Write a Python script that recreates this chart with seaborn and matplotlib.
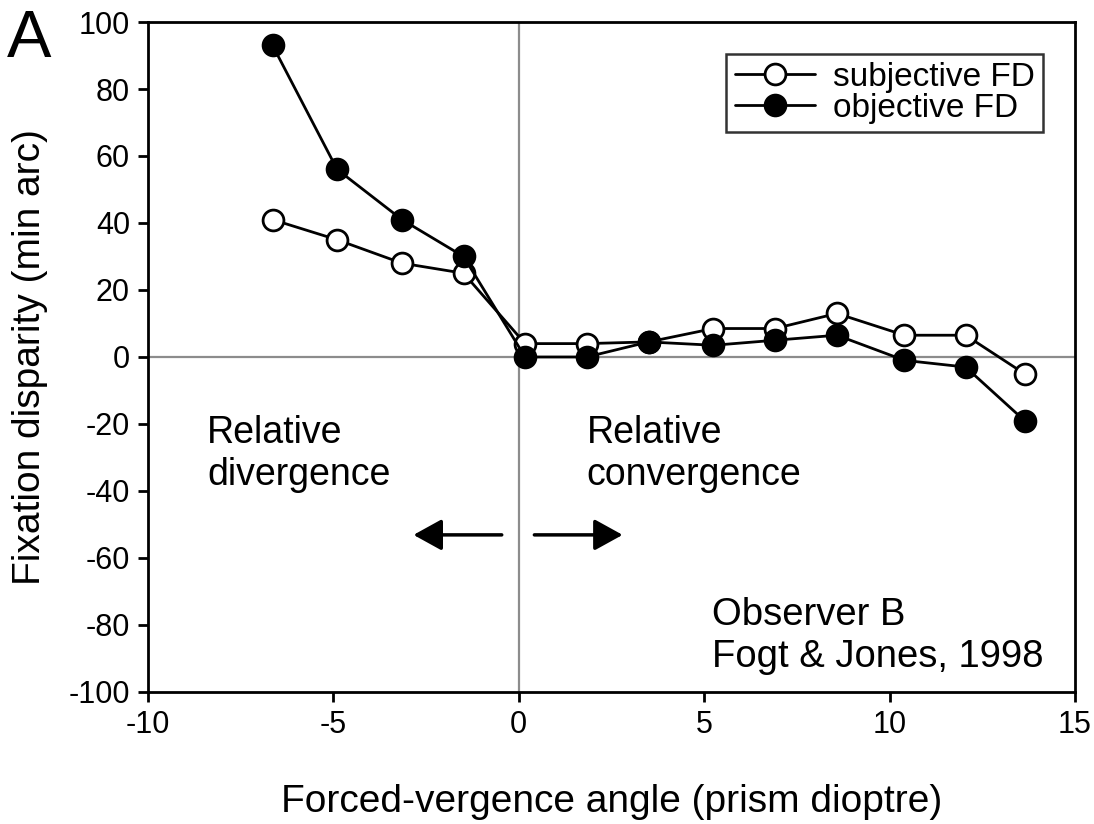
import matplotlib
matplotlib.use("Agg")
import matplotlib.pyplot as plt
import seaborn as sns
import pandas as pd

# Forced-vergence angle (prism dioptre)
angulo = [-6.64, -4.9, -3.15, -1.49, 0.17, 1.83, 3.5, 5.25, 6.91, 8.58, 10.4, 12.05, 13.64]
# Fixation disparity (min arc)
fd_subjetiva = [41, 35, 28, 25, 4, 4, 4.5, 8.5, 8.5, 13, 6.5, 6.5, -5]
fd_objetiva = [93, 56, 41, 30, 0, 0, 4.5, 3.5, 5, 6.5, -1, -3, -19]

etiquetas = ['subjective FD', 'objective FD']
xticks = [-10, -5, 0, 5, 10, 15]
yticks = list(range(-100, 101, 20))

df_subj = pd.DataFrame({'x': angulo, 'y': fd_subjetiva})
df_obj = pd.DataFrame({'x': angulo, 'y': fd_objetiva})

sns.set_theme(style='white')
plt.rcParams['font.family'] = ['Liberation Sans', 'DejaVu Sans']
plt.rcParams['text.color'] = 'black'
plt.rcParams['axes.labelcolor'] = 'black'
plt.rcParams['xtick.color'] = 'black'
plt.rcParams['ytick.color'] = 'black'

fig = plt.figure(figsize=(10.94, 8.24), dpi=100)
ax = fig.add_axes([0.1353, 0.1602, 0.8473, 0.8131])

# lineas de referencia
ax.axhline(0, color='#8c8c8c', lw=1.6, zorder=1)
ax.axvline(0, color='#8c8c8c', lw=1.6, zorder=1)

estilo = dict(marker='o', markersize=15, markeredgewidth=2, markeredgecolor='black',
              color='black', linewidth=2, estimator=None, sort=False)
sns.lineplot(data=df_subj, x='x', y='y', ax=ax, markerfacecolor='white',
             label=etiquetas[0], zorder=3, **estilo)
sns.lineplot(data=df_obj, x='x', y='y', ax=ax, markerfacecolor='black',
             label=etiquetas[1], zorder=4, **estilo)

ax.set_xlim(-10, 15)
ax.set_ylim(-100, 100)
ax.set_xticks(xticks)
ax.set_yticks(yticks)
ax.set_xticklabels([str(t) for t in xticks])
ax.set_yticklabels([str(t) for t in yticks])
ax.tick_params(direction='out', length=7, width=2, labelsize=22, color='black',
               labelcolor='black', left=True, bottom=True, pad=6)
for s in ax.spines.values():
    s.set_color('black')
    s.set_linewidth(2)

ax.set_xlabel('Forced-vergence angle (prism dioptre)', fontsize=28, labelpad=32)
ax.set_ylabel('Fixation disparity (min arc)', fontsize=28, labelpad=15)

# textos
ax.text(-8.41, -17.3, 'Relative\ndivergence', fontsize=27, va='top', ha='left')
ax.text(1.83, -17.3, 'Relative\nconvergence', fontsize=27, va='top', ha='left')
ax.text(5.2, -71.7, 'Observer B\nFogt & Jones, 1998', fontsize=27.5, va='top', ha='left')

# flechas
flecha = dict(arrowstyle='-|>,head_length=1.45,head_width=0.8', color='black', lw=2.5,
              shrinkA=0, shrinkB=0)
ax.annotate('', xy=(-2.84, -53.1), xytext=(-0.46, -53.1), arrowprops=flecha)
ax.annotate('', xy=(2.80, -53.1), xytext=(0.42, -53.1), arrowprops=flecha)

leg = ax.legend(loc='upper right', fontsize=24, frameon=True, fancybox=False,
                handlelength=2.4, borderaxespad=0.95, borderpad=0.25, labelspacing=0.0,
                handletextpad=0.55)
leg.get_frame().set_edgecolor('black')
leg.get_frame().set_linewidth(1.8)

fig.text(0.006, 0.931, 'A', fontsize=48, va='baseline', ha='left')

fig.savefig('out.png', dpi=100)
